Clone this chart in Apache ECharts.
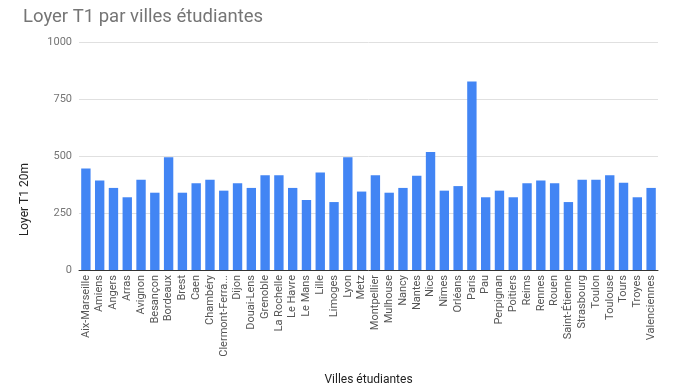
<!DOCTYPE html>
<html><head><meta charset="utf-8">
<script src="https://cdn.jsdelivr.net/npm/echarts@6/dist/echarts.min.js"></script>
<style>html,body{margin:0;padding:0;background:#fff}#c{width:700px;height:391px}</style>
</head><body><div id="c"></div>
<script>
const categories = ["Aix-Marseille","Amiens","Angers","Arras","Avignon","Besançon","Bordeaux","Brest","Caen","Chambéry","Clermont-Ferrand","Dijon","Douai-Lens","Grenoble","La Rochelle","Le Havre","Le Mans","Lille","Limoges","Lyon","Metz","Montpellier","Mulhouse","Nancy","Nantes","Nice","Nîmes","Orléans","Paris","Pau","Perpignan","Poitiers","Reims","Rennes","Rouen","Saint-Étienne","Strasbourg","Toulon","Toulouse","Tours","Troyes","Valenciennes"];
const loyer = [445,392,360,319,396,339,495,339,380,396,348,380,360,416,416,360,307,428,298,495,344,416,339,360,413,518,348,368,827,319,348,319,380,392,380,298,396,396,416,383,319,360];
const yTicks = [0,250,500,750,1000];

const chart = echarts.init(document.getElementById('c'));
chart.setOption({
  textStyle:{fontFamily:'Roboto'},
  animation:false,
  title:{text:'Loyer T1 par villes étudiantes',left:18,top:3,textStyle:{fontSize:18.5,fontWeight:'normal',color:'#757575',fontFamily:'Roboto'}},
  grid:{left:79,right:42,top:42,bottom:120},
  xAxis:{type:'category',data:categories,
    name:'Villes étudiantes',nameLocation:'middle',nameGap:104,
    nameTextStyle:{fontSize:12,color:'#222'},
    axisTick:{show:false},
    axisLine:{lineStyle:{color:'#333',width:1}},
    axisLabel:{rotate:90,interval:0,fontSize:11,color:'#555',margin:5,width:86,overflow:'truncate',ellipsis:'...'}},
  yAxis:{type:'value',min:yTicks[0],max:yTicks[yTicks.length-1],interval:250,
    axisLine:{show:false},axisTick:{show:false},
    axisLabel:{fontSize:11,color:'#757575',margin:7,formatter:function(v){return String(v);}},
    splitLine:{lineStyle:{color:'#e0e0e0'}}},
  graphic:[{type:'text',left:19,top:163,rotation:Math.PI/2,
    style:{text:'Loyer T1 20m',fontSize:12,fill:'#222',fontFamily:'Roboto'}}],
  series:[{type:'bar',data:loyer,barCategoryGap:'32%',itemStyle:{color:'#4285F4'}}]
});
</script></body></html>
